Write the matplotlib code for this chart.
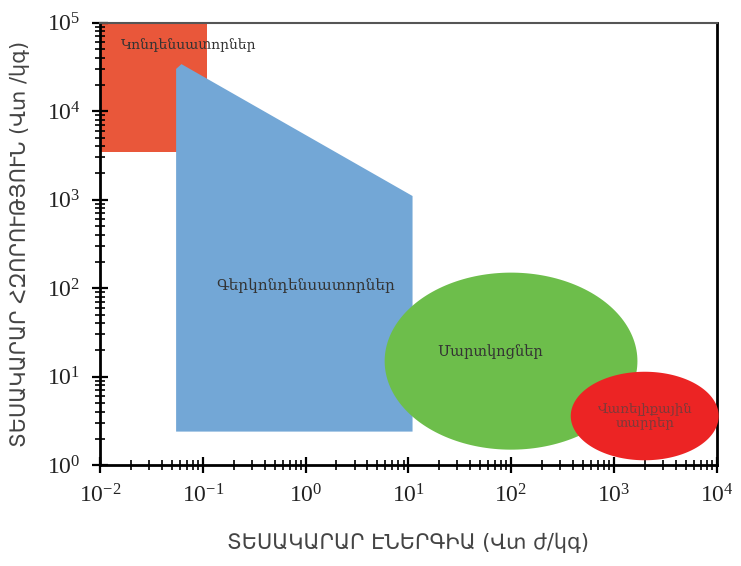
import numpy as np
import matplotlib
matplotlib.use("Agg")
import matplotlib.pyplot as plt
from matplotlib.ticker import LogLocator, NullFormatter

# Ragone chart data (log-log)
cap_energy = [0.01, 0.11]            # Wh/kg span of capacitors block
cap_power = [3.5e3, 1e5]             # W/kg span

super_energy = [0.055, 0.055, 0.062, 11.0, 11.0]
super_power = [2.4, 3.0e4, 3.4e4, 1.1e3, 2.4]

batt_center = (100.0, 15.0)          # ellipse centre (energy, power)
batt_half_decades = (1.23, 1.0)      # half axes in decades

fuel_center = (2000.0, 3.6)
fuel_half_decades = (0.72, 0.5)

labels = ["Կոնդենսատորներ", "Գերկոնդենսատորներ", "Մարտկոցներ", "Վառելիքային\nտարրեր"]
label_pos = [(0.016, 5.6e4), (1.0, 107), (63, 19), (2000, 3.6)]

xlabel = "ՏԵՍԱԿԱՐԱՐ ԷՆԵՐԳԻԱ (Վտ ժ/կգ)"
ylabel = "ՏԵՍԱԿԱՐԱՐ ՀԶՈՐՈՒԹՅՈՒՆ (Վտ /կգ)"

fam = ["DejaVu Serif", "DejaVu Sans"]
plt.rcParams["font.family"] = ["Liberation Serif", "DejaVu Serif"]
plt.rcParams["mathtext.fontset"] = "custom"
plt.rcParams["mathtext.rm"] = "Liberation Serif"
plt.rcParams["mathtext.it"] = "Liberation Serif:italic"


def log_ellipse(center, half, n=200):
    t = np.linspace(0, 2 * np.pi, n)
    lx = np.log10(center[0]) + half[0] * np.cos(t)
    ly = np.log10(center[1]) + half[1] * np.sin(t)
    return 10 ** lx, 10 ** ly


fig = plt.figure(figsize=(7.41, 5.66), dpi=100)
ax = fig.add_axes([0.135, 0.178, 0.832, 0.782])
ax.set_xscale("log")
ax.set_yscale("log")
ax.set_xlim(1e-2, 1e4)
ax.set_ylim(1e0, 1e5)

# capacitors
ax.fill([cap_energy[0], cap_energy[1], cap_energy[1], cap_energy[0]],
        [cap_power[0], cap_power[0], cap_power[1], cap_power[1]],
        color="#E9573A", lw=0, zorder=1)
# supercapacitors
ax.fill(super_energy, super_power, color="#73A7D6", lw=0, zorder=2)
# batteries
bx, by = log_ellipse(batt_center, batt_half_decades)
ax.fill(bx, by, color="#6DBE4B", lw=0, zorder=3)
# fuel cells
fx, fy = log_ellipse(fuel_center, fuel_half_decades)
ax.fill(fx, fy, color="#EC2424", lw=0, zorder=4, clip_on=False)

ax.text(label_pos[0][0], label_pos[0][1], labels[0], fontsize=10, color="#333333",
        ha="left", va="center", family=fam, zorder=5)
ax.text(label_pos[1][0], label_pos[1][1], labels[1], fontsize=11, color="#333333",
        ha="center", va="center", family=fam, zorder=5)
ax.text(label_pos[2][0], label_pos[2][1], labels[2], fontsize=10.5, color="#333333",
        ha="center", va="center", family=fam, zorder=5)
ax.text(label_pos[3][0], label_pos[3][1], labels[3], fontsize=9.5, color="#7a3a3a",
        ha="center", va="center", family=fam, zorder=5, linespacing=1.2)

# axes styling
ax.spines["left"].set_linewidth(2)
ax.spines["bottom"].set_linewidth(2)
ax.spines["right"].set_linewidth(2)
ax.spines["top"].set_linewidth(1.5)
ax.spines["top"].set_color("#555555")

ax.xaxis.set_major_locator(LogLocator(base=10, numticks=10))
ax.yaxis.set_major_locator(LogLocator(base=10, numticks=10))
ax.xaxis.set_minor_locator(LogLocator(base=10, subs=np.arange(2, 10), numticks=10))
ax.yaxis.set_minor_locator(LogLocator(base=10, subs=np.arange(2, 10), numticks=10))
ax.xaxis.set_minor_formatter(NullFormatter())
ax.yaxis.set_minor_formatter(NullFormatter())
ax.tick_params(which="major", direction="inout", length=12, width=1.6,
               top=False, right=False, labelsize=17, pad=8, labelcolor="#222222")
ax.tick_params(which="minor", direction="inout", length=7, width=1.2,
               top=False, right=False)

ax.set_xlabel(xlabel, fontsize=15, color="#444444", family=["DejaVu Sans"], labelpad=18)
ax.set_ylabel(ylabel, fontsize=15, color="#444444", family=["DejaVu Sans"], labelpad=12)

fig.savefig("out.png", dpi=100)
